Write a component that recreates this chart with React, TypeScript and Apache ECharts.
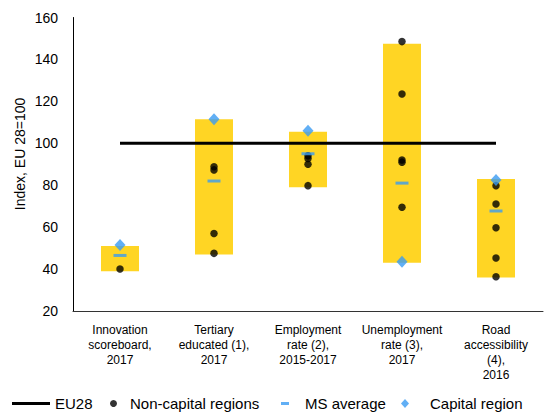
import React, { useEffect, useRef } from "react";
import * as echarts from "echarts";

const categories = [
  "Innovation\nscoreboard,\n2017",
  "Tertiary\neducated (1),\n2017",
  "Employment\nrate (2),\n2015-2017",
  "Unemployment\nrate (3),\n2017",
  "Road\naccessibility\n(4),\n2016",
];
const rangeMin = [39, 47, 79, 43, 36];
const rangeMax = [51, 111.5, 105.5, 147.5, 83];
const eu28 = [100, 100, 100, 100, 100];
const msAverage = [46.5, 82, 95, 81, 67.7];
const capitalRegion = [51.5, 111.5, 106, 43.5, 82.5];
const nonCapital = [
  [40],
  [88.8, 87.3, 57, 47.5],
  [94, 92.8, 90, 79.8],
  [148.5, 123.5, 92, 91, 69.5],
  [79.8, 71, 59.7, 45.3, 36.3],
];
const yTicks = { min: 20, max: 160, interval: 20 };

const FONT = "'Liberation Sans', Arial, sans-serif";
const YELLOW = "#FFD524";
const BLUE = "#3A9BF2";

export default function App() {
  const ref = useRef<HTMLDivElement>(null);
  useEffect(() => {
    document.body.style.margin = "0";
    if (!ref.current) return;
    const chart = echarts.init(ref.current, null, { renderer: "svg" });
    const legendBase = {
      orient: "horizontal",
      top: 396,
      padding: 0,
      selectedMode: false,
      textStyle: { fontFamily: FONT, fontSize: 15, color: "#000" },
    };
    chart.setOption({
      animation: false,
      backgroundColor: "#fff",
      textStyle: { fontFamily: FONT },
      grid: { left: 73, right: 7, top: 17.5, bottom: 104, containLabel: false },
      xAxis: {
        type: "category",
        data: categories,
        axisLine: { show: true, lineStyle: { color: "#333", width: 1 } },
        axisTick: { show: false },
        axisLabel: {
          interval: 0,
          fontSize: 12,
          lineHeight: 15,
          color: "#000",
          margin: 11,
          fontFamily: FONT,
        },
      },
      yAxis: {
        type: "value",
        min: yTicks.min,
        max: yTicks.max,
        interval: yTicks.interval,
        axisLine: { show: true, lineStyle: { color: "#000", width: 1 } },
        axisTick: { show: false },
        splitLine: { show: false },
        axisLabel: { fontSize: 14, color: "#000", margin: 15, fontFamily: FONT },
      },
      graphic: [
        {
          type: "text",
          x: 20,
          y: 154,
          rotation: Math.PI / 2,
          style: {
            text: "Index, EU 28=100",
            fontSize: 14,
            fontFamily: FONT,
            fill: "#000",
            align: "center",
            verticalAlign: "middle",
          },
        },
      ],
      legend: [
        {
          ...legendBase,
          left: 12,
          data: [{ name: "EU28", icon: "rect" }],
          itemWidth: 38,
          itemHeight: 3,
        },
        {
          ...legendBase,
          left: 110,
          data: [{ name: "Non-capital regions", icon: "circle" }],
          itemWidth: 7,
          itemHeight: 7,
          textStyle: { ...legendBase.textStyle, padding: [0, 0, 0, 8] },
        },
        {
          ...legendBase,
          left: 281,
          data: [{ name: "MS average", icon: "rect" }],
          itemWidth: 8,
          itemHeight: 3,
          textStyle: { ...legendBase.textStyle, padding: [0, 0, 0, 11] },
        },
        {
          ...legendBase,
          left: 401,
          data: [{ name: "Capital region", icon: "diamond" }],
          itemWidth: 8,
          itemHeight: 9,
          textStyle: { ...legendBase.textStyle, padding: [0, 0, 0, 16] },
        },
      ],
      series: [
        {
          name: "base",
          type: "bar",
          stack: "range",
          data: rangeMin,
          barWidth: 38,
          itemStyle: { color: "transparent" },
          silent: true,
          z: 1,
        },
        {
          name: "range",
          type: "bar",
          stack: "range",
          data: rangeMax.map((v, i) => v - rangeMin[i]),
          barWidth: 38,
          itemStyle: { color: YELLOW },
          silent: true,
          z: 1,
        },
        {
          name: "EU28",
          type: "line",
          data: eu28,
          symbol: "none",
          lineStyle: { color: "#000", width: 3 },
          itemStyle: { color: "#000" },
          z: 3,
        },
        {
          name: "Non-capital regions",
          type: "scatter",
          data: nonCapital.flatMap((vals, i) => vals.map((v) => [i, v])),
          symbol: "circle",
          symbolSize: 7.5,
          itemStyle: { color: "#000" },
          z: 4,
        },
        {
          name: "MS average",
          type: "scatter",
          data: msAverage,
          symbol: "rect",
          symbolSize: [13, 3],
          itemStyle: { color: BLUE },
          z: 5,
        },
        {
          name: "Capital region",
          type: "scatter",
          data: capitalRegion,
          symbol: "diamond",
          symbolSize: [11, 12],
          itemStyle: { color: BLUE },
          z: 6,
        },
      ],
    });
    return () => chart.dispose();
  }, []);
  return <div ref={ref} style={{ width: 550, height: 415 }} />;
}
